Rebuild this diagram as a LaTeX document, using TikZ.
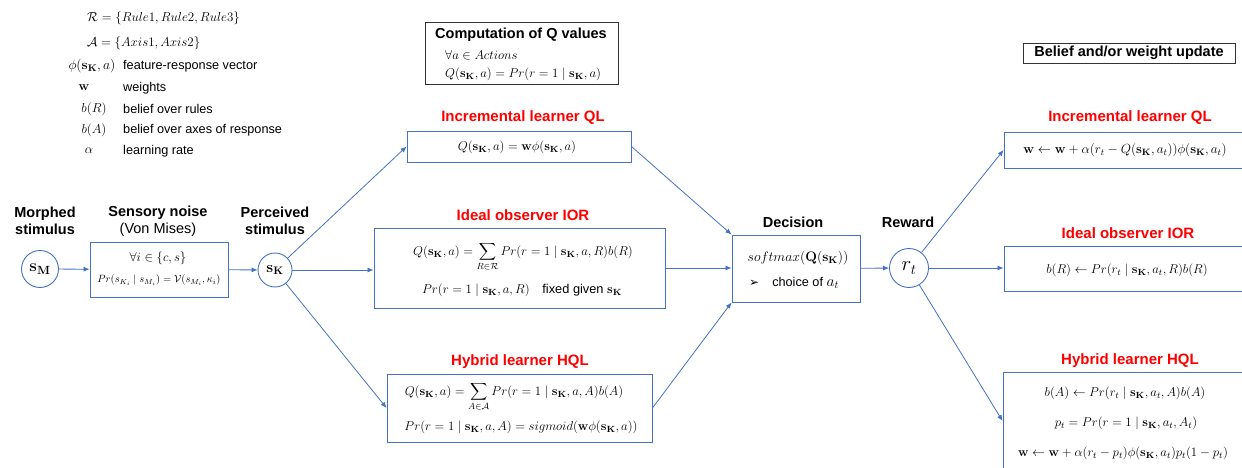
\RequirePackage{fix-cm}
\documentclass[tikz,border=0pt]{standalone}
\usepackage[no-math]{fontspec}
\setmainfont{Liberation Sans}
\newfontfamily\dejavu{DejaVu Sans}
\usepackage{amsmath}
\usetikzlibrary{arrows.meta}
\definecolor{lblue}{HTML}{4472C4}
\definecolor{tred}{HTML}{FF0000}
\newcommand{\sKv}{\mathbf{s}_{\mathbf{K}}}
\tikzset{
  box/.style={draw=lblue, line width=0.9pt, rectangle, inner sep=0pt},
  kbox/.style={draw=black!80, line width=0.9pt, rectangle, inner sep=0pt},
  circ/.style={draw=lblue, line width=0.9pt, circle, inner sep=0pt},
  arr/.style={draw=lblue, line width=0.8pt, -{Latex[length=6pt,width=5pt]}},
  ttl/.style={font=\fontsize{14.5}{17}\selectfont\bfseries, align=center, inner sep=0pt},
  rttl/.style={ttl, text=tred, font=\fontsize{15}{17}\selectfont\bfseries},
  mth/.style={font=\fontsize{12.8}{15}\selectfont, inner sep=0pt},
  leg/.style={font=\fontsize{12.7}{15}\selectfont, inner sep=0pt},
  lmth/.style={font=\fontsize{13}{15}\selectfont, inner sep=0pt},
}
\begin{document}
\begin{tikzpicture}[x=1pt,y=-1pt]
\useasboundingbox (0,0) rectangle (1242,468);
\clip (0,0) rectangle (1242,468);

% legend
\node[lmth, anchor=west] (l1) at (87,18) {$\mathcal{R}=\{Rule1, Rule2, Rule3\}$};
\node[lmth, anchor=west] (l2) at (87,43) {$\mathcal{A}=\{Axis1, Axis2\}$};
\node[lmth, font=\fontsize{13.7}{15}\selectfont] (m3) at (92,66) {$\phi(\sKv,a)$};
\node[lmth] (m4) at (84,88) {$\mathbf{w}$};
\node[lmth] (m5) at (94,109) {$b(R)$};
\node[lmth] (m6) at (94,130) {$b(A)$};
\node[lmth] (m7) at (89,151) {$\alpha$};
\node[leg, anchor=west] (t3) at (123,66) {feature-response vector};
\node[leg, anchor=west] (t4) at (123,88) {weights};
\node[leg, anchor=west] (t5) at (123,109) {belief over rules};
\node[leg, anchor=west] (t6) at (123,130) {belief over axes of response};
\node[leg, anchor=west] (t7) at (123,151) {learning rate};

% computation box
\node[kbox, minimum width=193, minimum height=62] (comp) at (521.5,53) {};
\node[ttl] (compt) at (521,35) {Computation of Q values};
\node[mth, anchor=west] (compa) at (445,55) {$\forall a\in Actions$};
\node[mth, anchor=west] (compb) at (445,74) {$Q(\sKv,a)=Pr(r=1\mid \sKv,a)$};

% belief box
\node[kbox, minimum width=212, minimum height=20] (bel) at (1129,53) {};
\node[ttl] (belt) at (1129,53) {Belief and/or weight update};

% left chain
\node[ttl] (mst) at (45,221) {Morphed\\stimulus};
\node[circ, minimum size=37] (sM) at (40,269) {\fontsize{17}{19}\selectfont$\mathbf{s}_{\mathbf{M}}$};
\node[ttl] (snt) at (158,221) {Sensory noise\\\mdseries (Von Mises)};
\node[box, minimum width=138, minimum height=55] (sens) at (159,269.5) {};
\node[mth] (sens1) at (158,258) {$\forall i\in\{c,s\}$};
\node[mth, font=\fontsize{10.5}{12}\selectfont] (sens2) at (159,280) {$Pr(s_{K_i}\mid s_{M_i})=\mathcal{V}(s_{M_i},\kappa_i)$};
\node[ttl] (pst) at (275,221) {Perceived\\stimulus};
\node[circ, minimum size=34] (sK) at (275,270) {\fontsize{15.5}{18}\selectfont$\sKv$};

% middle models
\node[rttl] (qlt) at (523,118) {Incremental learner QL};
\node[box, minimum width=224, minimum height=31] (ql) at (519,146.5) {};
\node[mth] (qlf) at (517,147) {$Q(\sKv,a)=\mathbf{w}\phi(\sKv,a)$};

\node[rttl] (iort) at (523,215) {Ideal observer IOR};
\node[box, minimum width=291, minimum height=80] (ior) at (519.5,268) {};
\node[mth] (iorf1) at (523,257) {$\displaystyle Q(\sKv,a)=\sum_{R\in\mathcal{R}}Pr(r=1\mid \sKv,a,R)b(R)$};
\node[mth] (iorf2) at (522,290) {$Pr(r=1\mid \sKv,a,R)$\quad fixed given $\sKv$};

\node[rttl] (hqlt) at (520,362) {Hybrid learner HQL};
\node[box, minimum width=265, minimum height=68] (hql) at (519.5,408) {};
\node[mth] (hqlf1) at (514,397) {$\displaystyle Q(\sKv,a)=\sum_{A\in\mathcal{A}}Pr(r=1\mid \sKv,a,A)b(A)$};
\node[mth] (hqlf2) at (521,427) {$Pr(r=1\mid \sKv,a,A)=sigmoid(\mathbf{w}\phi(\sKv,a))$};

% decision
\node[ttl] (dect) at (793,222) {Decision};
\node[box, minimum width=128, minimum height=67] (dec) at (796,268.5) {};
\node[mth, font=\fontsize{13.8}{15}\selectfont] (decf) at (798,258) {$softmax(\mathbf{Q}(\sKv))$};
\node[leg, anchor=west] (decc) at (749,283) {{\dejavu\fontsize{12}{12}\selectfont ➢}\hspace{13pt}choice of {\fontsize{15.5}{16}\selectfont$a_t$}};

% reward
\node[ttl] (rwt) at (908,222) {Reward};
\node[circ, minimum size=39] (rt) at (909,268) {\fontsize{20.7}{22}\selectfont$r_t$};

% right models
\node[rttl] (rqlt) at (1130,118) {Incremental learner QL};
\node[box, minimum width=256, minimum height=36] (rql) at (1132,150) {};
\node[mth, font=\fontsize{13.2}{15}\selectfont] (rqlf) at (1125,150) {$\mathbf{w}\leftarrow\mathbf{w}+\alpha(r_t-Q(\sKv,a_t))\phi(\sKv,a_t)$};

\node[rttl] (riort) at (1128,233) {Ideal observer IOR};
\node[box, minimum width=256, minimum height=45] (rior) at (1132,268.5) {};
\node[mth] (riorf) at (1127,270) {$b(R)\leftarrow Pr(r_t\mid \sKv,a_t,R)b(R)$};

\node[rttl] (rhqlt) at (1130,361) {Hybrid learner HQL};
\node[box, minimum width=258, minimum height=98] (rhql) at (1132,421) {};
\node[mth] (rhqlf1) at (1125,393) {$b(A)\leftarrow Pr(r_t\mid \sKv,a_t,A)b(A)$};
\node[mth] (rhqlf2) at (1126,423) {$p_t=Pr(r=1\mid \sKv,a_t,A_t)$};
\node[mth] (rhqlf3) at (1123,453) {$\mathbf{w}\leftarrow\mathbf{w}+\alpha(r_t-p_t)\phi(\sKv,a_t)p_t(1-p_t)$};

% connectors
\draw[arr] (sM) -- (sens);
\draw[arr] (sens) -- (sK);
\draw[arr] (sK) -- (sK -| ior.west);
\draw[arr] (sK) -- (ql.west);
\draw[arr] (sK) -- (hql.west);
\draw[arr] (ql.east) -- (dec.north west);
\draw[arr] (ior.east) -- (ior.east -| dec.west);
\draw[arr] (hql.east) -- (dec.south west);
\draw[arr] (dec) -- (rt);
\draw[arr] (rt) -- (rql.west);
\draw[arr] (rt) -- (rt -| rior.west);
\draw[arr] (rt) -- (rhql.west);
\end{tikzpicture}
\end{document}
